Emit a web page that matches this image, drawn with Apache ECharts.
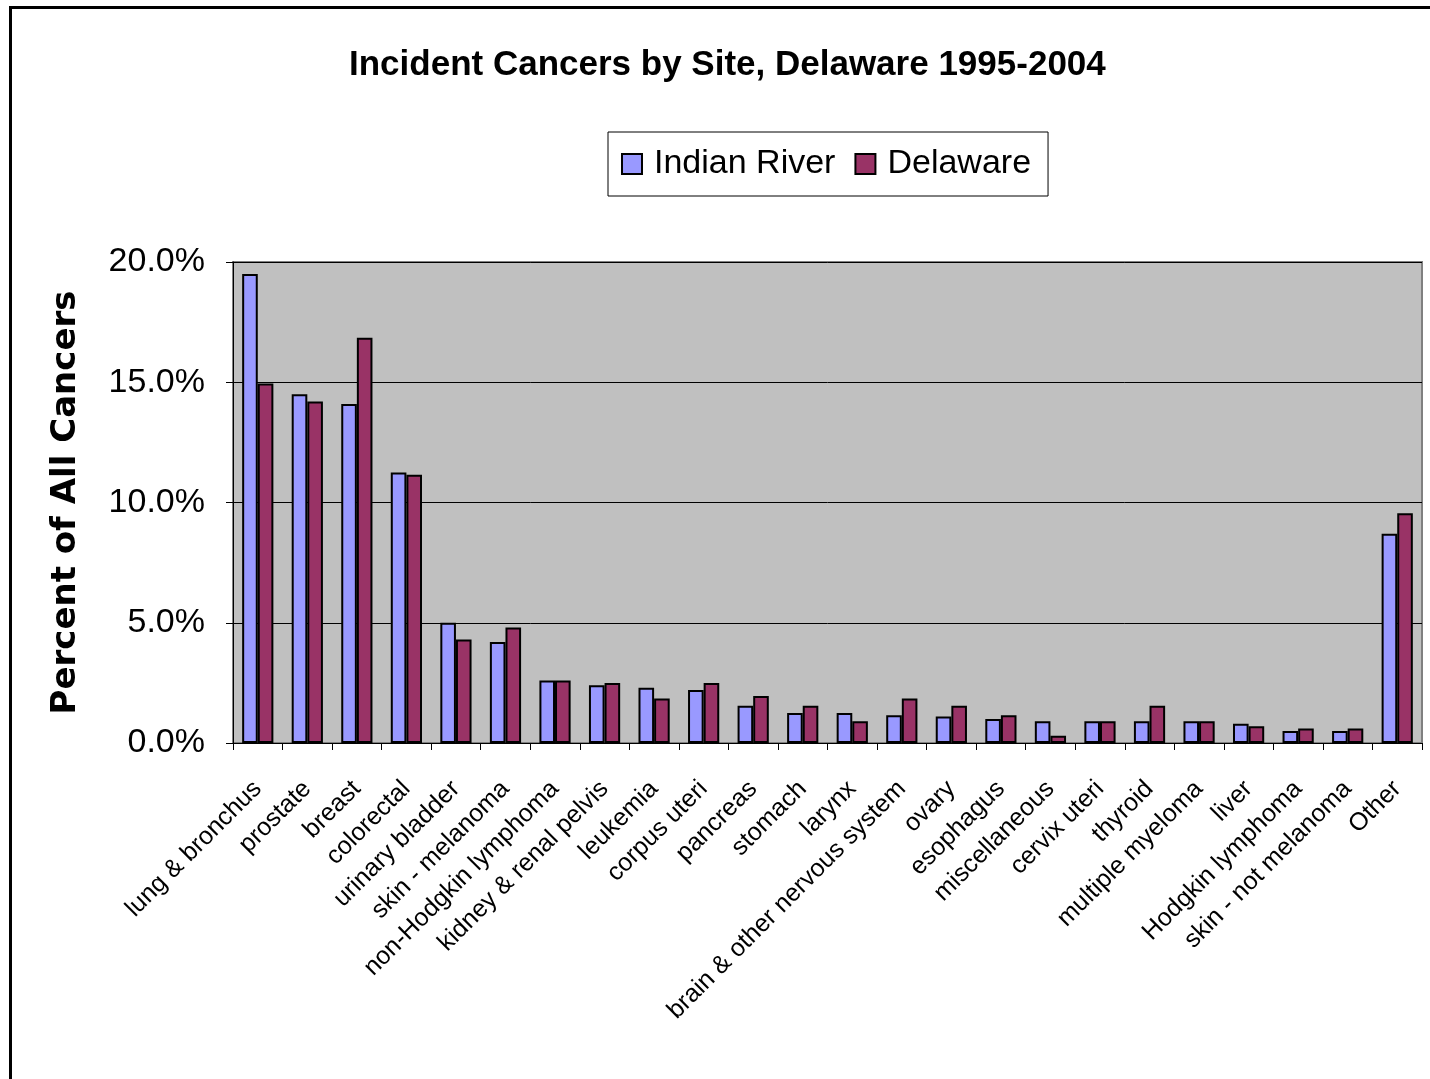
<!DOCTYPE html>
<html>
<head>
<meta charset="utf-8">
<title>Incident Cancers by Site, Delaware 1995-2004</title>
<script src="https://cdn.jsdelivr.net/npm/echarts@6/dist/echarts.min.js"></script>
<style>
  html, body { margin: 0; padding: 0; background: #fff; }
  #main { width: 1430px; height: 1079px; }
</style>
</head>
<body>
<div id="main"></div>
<script>
var sites = ['lung & bronchus', 'prostate', 'breast', 'colorectal', 'urinary bladder', 'skin - melanoma',
  'non-Hodgkin lymphoma', 'kidney & renal pelvis', 'leukemia', 'corpus uteri', 'pancreas', 'stomach',
  'larynx', 'brain & other nervous system', 'ovary', 'esophagus', 'miscellaneous', 'cervix uteri',
  'thyroid', 'multiple myeloma', 'liver', 'Hodgkin lymphoma', 'skin - not melanoma', 'Other'];
var indianRiver = [19.5, 14.5, 14.1, 11.25, 5.0, 4.2, 2.6, 2.4, 2.3, 2.2, 1.55, 1.25,
  1.25, 1.15, 1.1, 1.0, 0.9, 0.9, 0.9, 0.9, 0.8, 0.5, 0.5, 8.7];
var delaware = [14.95, 14.2, 16.85, 11.15, 4.3, 4.8, 2.6, 2.5, 1.85, 2.5, 1.95, 1.55,
  0.9, 1.85, 1.55, 1.15, 0.3, 0.9, 1.55, 0.9, 0.7, 0.6, 0.6, 9.55];
var seriesNames = ['Indian River', 'Delaware'];
var colors = ['#9999FF', '#993366'];

var chart = echarts.init(document.getElementById('main'));

var option = {
  color: colors,
  animation: false,
  title: {
    text: 'Incident Cancers by Site, Delaware 1995-2004',
    left: 349,
    top: 48,
    padding: 0,
    textStyle: {
      fontFamily: 'Liberation Sans, Arial, sans-serif',
      fontWeight: 'bold',
      fontSize: 35,
      color: '#000'
    }
  },
  legend: {
    data: seriesNames,
    left: 608,
    top: 132,
    padding: [15, 17, 15, 13],
    itemWidth: 20,
    itemHeight: 20,
    itemGap: 19,
    borderColor: '#000',
    borderWidth: 1,
    icon: 'rect',
    textStyle: {
      fontFamily: 'Liberation Sans, Arial, sans-serif',
      fontSize: 34,
      color: '#000',
      padding: [0, 0, 0, 7]
    }
  },
  grid: {
    left: 233,
    right: 8,
    top: 262,
    bottom: 336,
    show: true,
    backgroundColor: '#C0C0C0',
    borderColor: '#808080',
    borderWidth: 2
  },
  graphic: [{
    type: 'rect',
    shape: { x: 10.5, y: 7.5, width: 1440, height: 1100 },
    style: { fill: 'none', stroke: '#000', lineWidth: 3 },
    silent: true
  }],
  xAxis: {
    type: 'category',
    data: sites,
    axisLine: { lineStyle: { color: '#000', width: 1 } },
    axisTick: { show: true, interval: 0, length: 7, lineStyle: { color: '#000' } },
    axisLabel: {
      interval: 0,
      rotate: 45,
      margin: 42,
      fontFamily: 'Liberation Sans, Arial, sans-serif',
      fontSize: 25,
      color: '#000'
    }
  },
  yAxis: {
    type: 'value',
    min: 0,
    max: 20,
    interval: 5,
    name: 'Percent of All Cancers',
    nameLocation: 'middle',
    nameGap: 150,
    nameTextStyle: {
      fontFamily: 'DejaVu Sans, sans-serif',
      fontWeight: 'bold',
      fontSize: 34,
      color: '#000'
    },
    axisLine: { show: true, lineStyle: { color: '#000', width: 1 } },
    axisTick: { show: true, length: 7, lineStyle: { color: '#000' } },
    axisLabel: {
      margin: 28,
      fontFamily: 'Liberation Sans, Arial, sans-serif',
      fontSize: 34,
      color: '#000',
      formatter: function (v) { return v.toFixed(1) + '%'; }
    },
    splitLine: { show: true, lineStyle: { color: '#000', width: 1 } }
  },
  series: [
    {
      name: seriesNames[0],
      type: 'bar',
      data: indianRiver,
      barGap: '0%',
      barCategoryGap: '37%',
      itemStyle: { color: colors[0], borderColor: '#000', borderWidth: 2 }
    }, {
      name: seriesNames[1],
      type: 'bar',
      data: delaware,
      barGap: '0%',
      barCategoryGap: '37%',
      itemStyle: { color: colors[1], borderColor: '#000', borderWidth: 2 }
    }
  ]
};

chart.setOption(option);
</script>
</body>
</html>
